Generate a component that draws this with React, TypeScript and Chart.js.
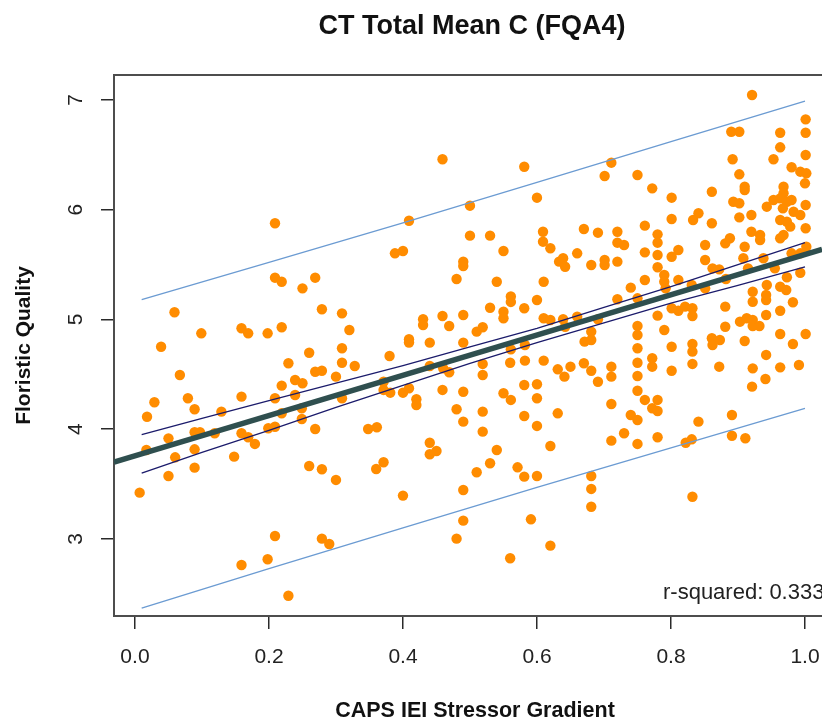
import React, { useEffect, useRef } from 'react';
import { Chart, registerables } from 'chart.js';

Chart.register(...registerables);

const TITLE = 'CT Total Mean C (FQA4)';
const X_TITLE = 'CAPS IEI Stressor Gradient';
const Y_TITLE = 'Floristic Quality';
const R2_LABEL = 'r-squared: 0.333';

const X_TICKS = [0, 0.2, 0.4, 0.6, 0.8, 1.0];
const Y_TICKS = [3, 4, 5, 6, 7];
const X_RANGE = [-0.0313, 1.0254];
const Y_RANGE = [2.298, 7.228];

// fitted regression line (abline) across the plot region
const FIT_X = [-0.0313, 1.0254];
const FIT_Y = [3.70, 5.64];

// 95% confidence band
const CONF_X = [0.01, 0.1, 0.2, 0.3, 0.4, 0.5, 0.6, 0.7, 0.8, 0.9, 1.0];
const CONF_UPPER = [3.95, 4.10, 4.26, 4.42, 4.58, 4.75, 4.92, 5.11, 5.30, 5.50, 5.70];
const CONF_LOWER = [3.60, 3.79, 3.99, 4.20, 4.40, 4.60, 4.79, 4.97, 5.15, 5.31, 5.48];

// 95% prediction band
const PRED_X = [0.01, 0.2, 0.4, 0.6, 0.8, 1.0];
const PRED_UPPER = [5.18, 5.52, 5.88, 6.25, 6.62, 6.99];
const PRED_LOWER = [2.37, 2.73, 3.10, 3.47, 3.83, 4.19];

// sites: [stressor gradient, floristic quality]
const SITES_LOW: number[][] = [
  [0.209, 5.877], [0.209, 5.381], [0.219, 5.344], [0.059, 5.066], [0.099, 4.874], [0.159, 4.92],
  [0.169, 4.874], [0.198, 4.874], [0.219, 4.929], [0.039, 4.752], [0.067, 4.494], [0.029, 4.246],
  [0.018, 4.114], [0.079, 4.282], [0.089, 4.182], [0.159, 4.297], [0.229, 4.601], [0.219, 4.397],
  [0.239, 4.449], [0.239, 4.312], [0.209, 4.282], [0.219, 4.145], [0.129, 4.16], [0.05, 3.917],
  [0.089, 3.972], [0.097, 3.972], [0.119, 3.963], [0.159, 3.963], [0.169, 3.927], [0.179, 3.866],
  [0.199, 4.009], [0.209, 4.023], [0.017, 3.811], [0.089, 3.817], [0.06, 3.744], [0.148, 3.75],
  [0.05, 3.574], [0.089, 3.65], [0.007, 3.422], [0.209, 3.027], [0.159, 2.763], [0.198, 2.815],
  [0.229, 2.483],
];

const SITES_MID: number[][] = [
  [0.459, 6.46], [0.5, 6.037], [0.409, 5.9], [0.5, 5.764], [0.53, 5.764], [0.388, 5.603],
  [0.4, 5.624], [0.55, 5.624], [0.49, 5.527], [0.49, 5.487], [0.48, 5.369], [0.54, 5.344],
  [0.269, 5.381], [0.25, 5.284], [0.561, 5.21], [0.561, 5.16], [0.279, 5.093], [0.309, 5.056],
  [0.32, 4.904], [0.43, 5.002], [0.43, 4.95], [0.459, 5.032], [0.469, 4.941], [0.49, 5.041],
  [0.53, 5.107], [0.55, 5.071], [0.55, 5.011], [0.51, 4.889], [0.519, 4.929], [0.409, 4.82],
  [0.409, 4.79], [0.44, 4.789], [0.49, 4.789], [0.26, 4.697], [0.309, 4.738], [0.38, 4.667],
  [0.561, 4.728], [0.269, 4.524], [0.279, 4.533], [0.25, 4.419], [0.3, 4.479], [0.309, 4.606],
  [0.328, 4.576], [0.309, 4.282], [0.249, 4.191], [0.249, 4.093], [0.371, 4.433], [0.371, 4.358],
  [0.381, 4.333], [0.4, 4.333], [0.409, 4.373], [0.44, 4.576], [0.46, 4.555], [0.469, 4.519],
  [0.459, 4.358], [0.49, 4.342], [0.519, 4.595], [0.519, 4.494], [0.42, 4.273], [0.42, 4.221],
  [0.56, 4.606], [0.55, 4.328], [0.561, 4.267], [0.48, 4.182], [0.519, 4.16], [0.49, 4.069],
  [0.519, 3.978], [0.269, 4.002], [0.348, 4.002], [0.361, 4.018], [0.44, 3.877], [0.44, 3.772],
  [0.45, 3.802], [0.54, 3.811], [0.26, 3.665], [0.279, 3.635], [0.3, 3.538], [0.36, 3.638],
  [0.371, 3.699], [0.53, 3.69], [0.51, 3.608], [0.4, 3.395], [0.49, 3.446], [0.49, 3.167],
  [0.48, 3.003], [0.279, 3.003], [0.29, 2.954], [0.56, 2.824], [0.571, 3.653],
];

const SITES_HIGH: number[][] = [
  [0.921, 7.046], [1.001, 6.824], [1.001, 6.702], [0.89, 6.711], [0.902, 6.711], [0.963, 6.702],
  [0.963, 6.569], [0.953, 6.46], [1.001, 6.499], [0.892, 6.46], [0.98, 6.387], [0.993, 6.347],
  [1.002, 6.332], [0.902, 6.323], [1.0, 6.241], [0.91, 6.21], [0.91, 6.18], [0.968, 6.21],
  [0.968, 6.15], [0.963, 6.104], [0.973, 6.073], [0.98, 6.089], [0.953, 6.089], [0.943, 6.028],
  [1.001, 6.043], [0.893, 6.073], [0.902, 6.059], [0.967, 6.013], [0.983, 5.982], [0.993, 5.952],
  [0.902, 5.931], [0.92, 5.952], [0.963, 5.907], [0.973, 5.891], [0.978, 5.846], [1.001, 5.831],
  [0.888, 5.74], [0.881, 5.694], [0.92, 5.8], [0.933, 5.77], [0.933, 5.724], [0.963, 5.74],
  [0.968, 5.77], [0.91, 5.663], [1.002, 5.663], [0.98, 5.603], [0.993, 5.603], [0.908, 5.558],
  [0.938, 5.558], [0.915, 5.466], [0.955, 5.466], [0.882, 5.369], [0.973, 5.385], [0.993, 5.426],
  [0.943, 5.314], [0.963, 5.299], [0.972, 5.269], [0.922, 5.253], [0.922, 5.162], [0.942, 5.223],
  [0.942, 5.178], [0.982, 5.157], [0.881, 5.117], [0.942, 5.041], [0.963, 5.08], [0.903, 4.98],
  [0.913, 5.011], [0.922, 4.995], [0.922, 4.941], [0.932, 4.941], [0.881, 4.934], [0.963, 4.868],
  [1.001, 4.868], [0.91, 4.804], [0.982, 4.777], [0.942, 4.677], [0.873, 4.813], [0.922, 4.555],
  [0.963, 4.564], [0.991, 4.585], [0.921, 4.388], [0.941, 4.458], [0.891, 4.13], [0.891, 3.941],
  [0.911, 3.918],
];

const SITES_UPPER_MID: number[][] = [
  [0.581, 6.392], [0.711, 6.429], [0.701, 6.308], [0.75, 6.317], [0.772, 6.195], [0.861, 6.164],
  [0.6, 6.11], [0.801, 6.11], [0.801, 5.916], [0.841, 5.968], [0.833, 5.907], [0.861, 5.877],
  [0.761, 5.855], [0.67, 5.825], [0.691, 5.791], [0.72, 5.8], [0.609, 5.8], [0.609, 5.709],
  [0.62, 5.649], [0.72, 5.7], [0.73, 5.679], [0.78, 5.776], [0.78, 5.7], [0.851, 5.679],
  [0.811, 5.633], [0.801, 5.572], [0.761, 5.612], [0.78, 5.588], [0.66, 5.603], [0.639, 5.558],
  [0.633, 5.527], [0.642, 5.481], [0.681, 5.497], [0.701, 5.542], [0.701, 5.497], [0.72, 5.527],
  [0.851, 5.542], [0.78, 5.476], [0.862, 5.466], [0.872, 5.457], [0.79, 5.405], [0.79, 5.344],
  [0.811, 5.36], [0.831, 5.314], [0.851, 5.284], [0.61, 5.344], [0.74, 5.29], [0.761, 5.36],
  [0.792, 5.284], [0.6, 5.178], [0.581, 5.102], [0.72, 5.184], [0.75, 5.193], [0.801, 5.102],
  [0.811, 5.08], [0.821, 5.117], [0.832, 5.102], [0.832, 5.032], [0.78, 5.035], [0.61, 5.011],
  [0.62, 4.995], [0.639, 5.002], [0.66, 5.026], [0.642, 4.934], [0.691, 5.002], [0.681, 4.889],
  [0.671, 4.798], [0.681, 4.813], [0.75, 4.941], [0.75, 4.859], [0.79, 4.904], [0.861, 4.829],
  [0.862, 4.768], [0.832, 4.777], [0.832, 4.707], [0.801, 4.752], [0.75, 4.738], [0.582, 4.768],
];

const SITES_LOWER_MID: number[][] = [
  [0.582, 4.625], [0.61, 4.625], [0.631, 4.546], [0.641, 4.479], [0.65, 4.57], [0.67, 4.601],
  [0.681, 4.533], [0.691, 4.433], [0.711, 4.57], [0.711, 4.479], [0.75, 4.606], [0.75, 4.485],
  [0.75, 4.351], [0.772, 4.647], [0.772, 4.57], [0.801, 4.533], [0.832, 4.595], [0.872, 4.57],
  [0.581, 4.403], [0.6, 4.41], [0.6, 4.282], [0.581, 4.121], [0.6, 4.03], [0.631, 4.145],
  [0.62, 3.847], [0.711, 4.23], [0.711, 3.896], [0.73, 3.963], [0.74, 4.13], [0.75, 4.084],
  [0.75, 3.866], [0.761, 4.267], [0.772, 4.191], [0.78, 4.267], [0.78, 4.166], [0.78, 3.927],
  [0.841, 4.069], [0.822, 3.877], [0.831, 3.908], [0.832, 3.385], [0.681, 3.574], [0.681, 3.456],
  [0.681, 3.294], [0.581, 3.568], [0.6, 3.574], [0.591, 3.179], [0.62, 2.939],
];

const FONT = '"Liberation Sans", Arial, Helvetica, sans-serif';
const BOX = '#4d4d4d';
const TICK = '#2a2a2a';

const decorPlugin = {
  id: 'decor',
  afterDraw(chart: any) {
    const { ctx, chartArea: a } = chart;
    ctx.save();
    ctx.strokeStyle = BOX;
    ctx.lineWidth = 2;
    ctx.beginPath();
    ctx.moveTo(a.left - 1, a.top);
    ctx.lineTo(a.right, a.top);
    ctx.stroke();

    ctx.fillStyle = '#111';
    ctx.textAlign = 'center';
    ctx.textBaseline = 'alphabetic';
    ctx.font = `bold 27px ${FONT}`;
    ctx.fillText(TITLE, 472, 33.5);

    ctx.font = `bold 21.5px ${FONT}`;
    ctx.fillText(X_TITLE, 475, 716.5);

    ctx.save();
    ctx.translate(30, 345.5);
    ctx.rotate(-Math.PI / 2);
    ctx.font = `bold 21px ${FONT}`;
    ctx.fillText(Y_TITLE, 0, 0);
    ctx.restore();

    ctx.fillStyle = '#222';
    ctx.font = `22px ${FONT}`;
    ctx.textAlign = 'left';
    ctx.fillText(R2_LABEL, 663, 599);
    ctx.restore();
  },
};

const toPoints = (xs: number[], ys: number[]) => xs.map((x, i) => ({ x, y: ys[i] }));

export default function App() {
  const ref = useRef<HTMLCanvasElement | null>(null);

  useEffect(() => {
    if (!ref.current) return;
    const sites = [...SITES_LOW, ...SITES_MID, ...SITES_UPPER_MID, ...SITES_LOWER_MID, ...SITES_HIGH].map(
      ([x, y]) => ({ x, y })
    );
    const lineDs = (data: any[], color: string, width: number, order: number) => ({
      type: 'scatter' as const,
      data,
      showLine: true,
      borderColor: color,
      borderWidth: width,
      pointRadius: 0,
      pointHoverRadius: 0,
      fill: false,
      tension: 0,
      order,
    });

    const chart = new Chart(ref.current, {
      type: 'scatter',
      data: {
        datasets: [
          lineDs(toPoints(FIT_X, FIT_Y), '#2f4f4f', 5.5, 3),
          lineDs(toPoints(CONF_X, CONF_UPPER), '#1b1b6b', 1.3, 1),
          lineDs(toPoints(CONF_X, CONF_LOWER), '#1b1b6b', 1.3, 1),
          lineDs(toPoints(PRED_X, PRED_UPPER), '#6b9bd2', 1.3, 2),
          lineDs(toPoints(PRED_X, PRED_LOWER), '#6b9bd2', 1.3, 2),
          {
            type: 'scatter',
            data: sites,
            backgroundColor: '#ff8c00',
            borderWidth: 0,
            pointRadius: 5.2,
            pointHoverRadius: 5.2,
            order: 10,
          } as any,
        ],
      },
      options: {
        responsive: false,
        animation: false,
        devicePixelRatio: 1,
        events: [],
        layout: { autoPadding: false, padding: { top: 75, right: 0, bottom: 0, left: 0 } },
        plugins: {
          legend: { display: false },
          tooltip: { enabled: false },
          title: { display: false },
        },
        scales: {
          x: {
            type: 'linear',
            min: X_RANGE[0],
            max: X_RANGE[1],
            afterFit: (s: any) => {
              s.height = 105;
              s.paddingLeft = 0;
              s.paddingRight = 0;
            },
            afterBuildTicks: (s: any) => {
              s.ticks = X_TICKS.map((v) => ({ value: v }));
            },
            ticks: {
              callback: (v: any) => Number(v).toFixed(1),
              font: { family: FONT, size: 21 },
              color: '#222',
              padding: 16,
              minRotation: 0,
              maxRotation: 0,
              autoSkip: false,
            },
            grid: {
              drawOnChartArea: false,
              drawTicks: true,
              tickLength: 13,
              color: TICK,
              tickColor: TICK,
              lineWidth: 1.5,
            },
            border: { display: true, color: BOX, width: 2 },
          },
          y: {
            type: 'linear',
            min: Y_RANGE[0],
            max: Y_RANGE[1],
            afterFit: (s: any) => {
              s.width = 114;
              s.paddingTop = 0;
              s.paddingBottom = 0;
            },
            afterBuildTicks: (s: any) => {
              s.ticks = Y_TICKS.map((v) => ({ value: v }));
            },
            ticks: {
              callback: (v: any) => String(v),
              font: { family: FONT, size: 21 },
              color: '#222',
              padding: 19,
              minRotation: 90,
              maxRotation: 90,
              crossAlign: 'center',
              autoSkip: false,
            },
            grid: {
              drawOnChartArea: false,
              drawTicks: true,
              tickLength: 13,
              color: TICK,
              tickColor: TICK,
              lineWidth: 1.5,
            },
            border: { display: true, color: BOX, width: 2 },
          },
        },
      },
      plugins: [decorPlugin],
    } as any);

    return () => chart.destroy();
  }, []);

  return (
    <div style={{ position: 'fixed', left: 0, top: 0, width: 822, height: 721, background: '#fff' }}>
      <canvas ref={ref} width={822} height={721} style={{ display: 'block', width: 822, height: 721 }} />
    </div>
  );
}
